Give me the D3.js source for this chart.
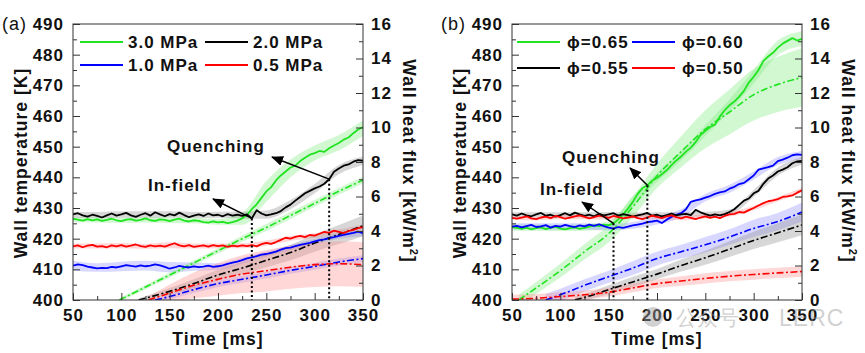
<!DOCTYPE html>
<html>
<head>
<meta charset="utf-8">
<script src="https://cdn.jsdelivr.net/npm/d3@7"></script>
<style>
  body { margin: 0; background: #fff; }
  text { font-family: "Liberation Sans", Arial, sans-serif; }
</style>
</head>
<body>
<div id="chart"></div>
<script>

// time grid of the wall temperature traces [ms]
var timeT = [50,55,60,65,70,75,80,85,90,95,100,105,110,115,120,125,130,135,140,145,150,155,160,165,170,175,180,185,190,195,
  200,205,210,215,220,225,230,235,240,245,250,255,260,265,270,275,280,285,290,295,300,305,310,315,320,325,330,335,340,345,350];
// time grid of the shaded temperature bands [ms]
var timeBand = [50,75,100,125,150,175,200,225,250,275,300,325,350];

/* ---------- (a) pressure ---------- */
var pressureLabels = ["3.0 MPa", "2.0 MPa", "1.0 MPa", "0.5 MPa"];

var tempA30 = [426.5,426.2,425.9,426.4,426.0,426.3,425.8,426.1,426.5,426.0,425.7,426.2,426.4,425.9,426.1,426.6,426.0,425.8,426.3,426.1,
  425.7,426.2,426.5,425.9,425.6,426.0,425.8,425.4,425.2,425.6,425.3,425.5,425.1,425.4,425.9,426.6,427.8,429.6,431.2,433.3,
  435.4,436.8,439.0,440.6,441.9,443.2,443.8,445.3,446.4,447.4,447.9,448.6,448.3,449.5,450.4,451.2,452.3,453.0,454.4,455.6,456.4];
var tempA20 = [427.9,428.3,427.6,427.2,427.8,427.4,426.9,427.6,428.2,427.5,427.9,428.4,427.6,427.1,427.8,428.3,427.5,428.6,427.9,427.3,
  428.0,427.6,428.5,427.7,427.0,427.5,427.9,427.4,428.2,427.6,427.8,427.3,428.0,427.5,427.8,427.4,427.9,426.6,429.3,428.2,
  427.6,427.9,428.3,429.0,430.2,431.1,432.4,433.6,434.8,435.6,436.4,437.0,437.9,439.4,441.8,442.9,443.8,444.2,445.1,445.6,445.4];
var tempA10 = [411.2,411.6,411.4,410.9,410.6,410.3,410.5,410.4,410.8,410.6,411.0,411.4,411.1,410.9,411.3,411.0,411.2,411.6,411.3,410.8,
  410.2,410.6,411.1,410.8,410.6,411.0,410.7,410.9,411.2,410.8,411.0,411.3,411.8,412.2,412.5,413.0,413.6,413.9,414.3,414.8,
  415.0,415.4,415.8,416.4,416.9,417.1,417.6,418.0,418.3,418.6,419.1,419.5,419.8,420.2,420.5,420.9,421.2,421.6,421.9,422.3,421.8];
var tempA05 = [417.5,417.8,417.2,417.7,418.0,417.4,417.6,417.2,417.8,417.5,417.9,417.4,417.7,418.1,417.6,417.3,417.8,417.5,417.7,417.4,
  418.0,418.5,417.8,417.5,417.9,417.3,417.6,417.8,417.4,417.9,417.6,417.8,417.3,417.7,417.5,417.8,417.6,417.9,417.5,418.2,
  418.6,418.3,418.9,419.6,420.3,420.0,420.6,420.9,420.5,421.2,421.0,421.6,422.2,421.9,422.6,422.2,421.8,422.5,422.9,423.4,423.8];

var bandA30Lo = [425.4,425.3,425.2,425.3,425.1,425.0,424.5,424.5,432.0,440.0,445.5,448.8,453.5];
var bandA30Hi = [426.9,427.0,426.8,427.0,426.9,426.8,426.4,428.5,438.8,445.8,450.4,453.8,458.5];
var bandA20Lo = [426.8,426.7,426.8,426.8,426.9,426.7,426.8,426.6,426.5,429.6,434.8,441.0,444.0];
var bandA20Hi = [428.8,428.7,428.9,428.9,428.9,428.7,428.8,428.8,429.2,432.6,437.8,444.0,446.8];
var bandA10Lo = [409.5,409.2,409.4,409.6,409.0,409.5,409.8,411.8,414.2,416.2,418.2,420.0,420.8];
var bandA10Hi = [412.8,412.0,412.5,412.8,412.4,412.2,412.0,413.8,415.8,417.9,419.9,421.8,422.8];
var bandA05Lo = [416.8,416.8,416.9,416.7,416.9,416.8,416.9,416.9,417.7,419.3,420.2,421.4,422.8];
var bandA05Hi = [418.4,418.4,418.6,418.3,418.8,418.4,418.4,418.5,419.4,420.9,421.8,423.0,424.6];

// wall heat flux [kW/m2], mean and spread
var fluxTimeA30 = [98,125,150,175,200,225,250,275,300,325,350];
var fluxA30     = [0,0.75,1.45,2.15,2.85,3.55,4.2,4.9,5.6,6.3,6.95];
var fluxSdA30   = [0.1,0.12,0.15,0.15,0.15,0.18,0.2,0.2,0.2,0.2,0.2];
var fluxTimeA20 = [118,150,175,200,225,250,275,300,325,350];
var fluxA20     = [0,0.5,0.95,1.45,1.85,2.3,2.75,3.3,3.8,4.3];
var fluxSdA20   = [0.1,0.2,0.25,0.3,0.35,0.4,0.45,0.5,0.55,0.6];
var fluxTimeA10 = [135,150,175,200,225,250,275,300,325,350];
var fluxA10     = [0,0.2,0.6,0.95,1.2,1.45,1.72,1.95,2.2,2.4];
var fluxSdA10   = [0.1,0.15,0.2,0.2,0.2,0.2,0.2,0.2,0.2,0.2];
var fluxTimeA05 = [128,150,175,200,225,250,275,300,325,350];
var fluxA05     = [0,0.4,0.85,1.2,1.5,1.7,1.9,2.05,2.1,2.05];
var fluxSdA05   = [0.2,0.5,0.75,0.95,1.1,1.2,1.25,1.3,1.3,1.3];

/* ---------- (b) equivalence ratio ---------- */
var phiLabels = ["\u03d5=0.65", "\u03d5=0.60", "\u03d5=0.55", "\u03d5=0.50"];

var tempB65 = [423.8,423.5,423.2,423.6,423.0,423.4,423.7,423.1,423.5,423.9,423.3,423.0,423.4,423.7,423.2,423.5,423.9,424.3,424.1,424.6,
  424.4,425.0,426.3,427.9,429.8,432.0,434.6,436.5,437.4,438.9,439.8,441.0,442.3,444.0,445.5,446.8,448.4,449.7,451.5,453.8,
  455.2,456.4,457.2,459.8,461.9,463.5,464.7,466.3,468.2,470.9,472.8,475.0,477.9,479.4,480.6,482.3,483.6,484.5,485.4,484.6,485.2];
var tempB60 = [423.9,424.2,423.7,424.1,424.5,423.8,424.0,424.4,423.6,424.2,423.9,424.5,424.1,423.8,424.3,424.0,424.6,424.2,424.7,424.1,
  423.6,423.3,423.8,423.5,423.9,424.3,424.6,424.9,425.4,425.6,425.9,425.1,426.2,427.1,427.8,428.3,429.6,432.0,432.5,432.8,
  433.4,433.9,434.6,435.1,435.4,436.3,436.9,437.8,438.2,439.4,440.6,442.5,442.9,443.3,443.8,445.3,445.8,446.4,447.2,447.5,447.3];
var tempB55 = [427.9,427.5,428.2,427.6,427.3,427.9,428.4,427.5,427.8,427.2,427.7,428.3,427.6,428.5,427.9,427.4,427.8,427.3,428.1,427.6,
  427.9,428.3,427.5,428.0,427.7,427.2,427.6,427.9,428.4,427.5,427.8,427.3,427.7,428.2,427.6,427.9,428.1,427.7,429.4,428.6,
  428.0,427.5,427.9,427.6,428.0,428.7,429.6,431.0,432.4,433.1,434.8,435.6,437.9,439.6,440.6,441.9,442.5,443.3,444.6,445.2,445.4];
var tempB50 = [426.8,426.5,426.9,427.3,426.6,426.4,426.9,427.2,426.7,427.4,427.0,426.5,426.9,427.3,427.6,427.1,426.6,427.0,427.5,427.2,
  426.8,427.4,427.0,426.6,426.9,427.3,426.7,426.4,426.9,427.5,427.1,426.7,427.3,427.6,427.0,426.6,427.2,426.8,426.4,426.9,
  427.3,426.8,427.2,426.7,427.4,427.9,428.1,428.7,428.5,429.3,430.0,430.8,431.6,432.2,432.5,432.9,433.6,433.8,434.1,435.0,435.8];

var bandB65Lo = [422.6,422.6,422.5,422.6,423.3,430.5,438.5,445.5,453.5,461.5,470.5,479.8,482.8];
var bandB65Hi = [424.6,424.6,424.5,424.7,425.6,433.9,441.5,448.5,457.0,465.5,475.0,484.6,487.6];
var bandB60Lo = [423.0,423.1,423.0,423.0,422.7,423.2,424.6,427.0,432.2,435.0,439.3,444.0,446.0];
var bandB60Hi = [425.0,425.0,425.0,425.0,424.8,425.4,427.2,429.6,434.6,437.6,441.9,446.6,448.6];
var bandB55Lo = [427.0,427.0,427.0,427.0,427.1,426.9,427.0,427.1,427.2,427.9,433.6,440.6,444.2];
var bandB55Hi = [428.6,428.6,428.6,428.6,428.7,428.5,428.6,428.7,428.8,429.5,435.9,443.2,446.6];
var bandB50Lo = [426.2,426.0,426.3,426.3,426.2,426.5,426.4,426.0,426.6,427.2,429.3,432.2,435.0];
var bandB50Hi = [427.5,427.1,427.7,427.8,427.5,428.0,427.9,427.3,428.0,428.6,430.7,433.6,436.6];

var fluxTimeB65 = [57,75,100,125,150,175,200,225,250,275,300,325,350];
var fluxB65     = [0,0.7,1.7,2.8,3.85,5.4,7.2,8.6,9.9,10.9,11.9,12.5,12.9];
var fluxSdB65   = [0.3,0.35,0.4,0.45,0.5,0.6,0.7,0.9,1.1,1.3,1.5,1.6,1.7];
var fluxTimeB60 = [85,100,125,150,175,200,225,250,275,300,325,350];
var fluxB60     = [0,0.3,0.85,1.35,1.85,2.4,2.8,3.2,3.65,4.15,4.55,5.1];
var fluxSdB60   = [0.35,0.35,0.35,0.35,0.4,0.4,0.4,0.45,0.45,0.5,0.5,0.55];
var fluxTimeB55 = [115,125,150,175,200,225,250,275,300,325,350];
var fluxB55     = [0,0.15,0.6,1.05,1.5,2.0,2.45,2.95,3.45,3.9,4.35];
var fluxSdB55   = [0.2,0.2,0.25,0.3,0.3,0.35,0.4,0.45,0.5,0.55,0.6];
var fluxTimeB50 = [50,75,100,125,150,175,200,225,250,275,300,325,350];
var fluxB50     = [0.05,0.1,0.2,0.3,0.45,0.7,0.95,1.1,1.25,1.38,1.48,1.57,1.65];
var fluxSdB50   = [0.25,0.25,0.25,0.25,0.25,0.25,0.25,0.28,0.3,0.3,0.3,0.3,0.3];

// axis ticks
var timeTicks = [50,100,150,200,250,300,350];
var tempTicks = [400,410,420,430,440,450,460,470,480,490];
var fluxTicks = [0,2,4,6,8,10,12,14,16];

var colors = ["#1fe41f", "#000000", "#0000ff", "#ff0000"];
var bandColors = ["#7dea7d", "#8c8c8c", "#8c8cff", "#ff8c8c"];

var svg = d3.select("#chart")
  .append("svg")
  .attr("width", 865)
  .attr("height", 353);

var plotTop = 24, plotBottom = 300, plotWidth = 290;

function zip(ts, vs) {
  return ts.map(function(t, i) { return { t: t, v: vs[i] }; });
}

function drawPanel(p) {
  var x = d3.scaleLinear().domain([50, 350]).range([p.left, p.left + plotWidth]);
  var yT = d3.scaleLinear().domain([400, 490]).range([plotBottom, plotTop]);
  var yQ = d3.scaleLinear().domain([0, 16]).range([plotBottom, plotTop]);

  var g = svg.append("g");

  g.append("clipPath").attr("id", "clip-" + p.id)
    .append("rect")
    .attr("x", p.left).attr("y", plotTop)
    .attr("width", plotWidth).attr("height", plotBottom - plotTop);

  var plot = g.append("g").attr("clip-path", "url(#clip-" + p.id + ")");

  var bandArea = d3.area()
    .x(function(d) { return x(d.t); })
    .y0(function(d) { return yT(d.lo); })
    .y1(function(d) { return yT(d.hi); })
    .curve(d3.curveMonotoneX);

  var fluxArea = d3.area()
    .x(function(d) { return x(d.t); })
    .y0(function(d) { return yQ(d.v - d.sd); })
    .y1(function(d) { return yQ(d.v + d.sd); })
    .curve(d3.curveMonotoneX);

  var tempLine = d3.line()
    .x(function(d) { return x(d.t); })
    .y(function(d) { return yT(d.v); });

  var fluxLine = d3.line()
    .x(function(d) { return x(d.t); })
    .y(function(d) { return yQ(d.v); })
    .curve(d3.curveMonotoneX);

  // shaded bands
  p.series.forEach(function(s, i) {
    plot.append("path")
      .datum(timeBand.map(function(t, j) { return { t: t, lo: s.bandLo[j], hi: s.bandHi[j] }; }))
      .attr("d", bandArea)
      .attr("fill", bandColors[s.c])
      .attr("fill-opacity", 0.35);
  });
  p.series.forEach(function(s, i) {
    plot.append("path")
      .datum(s.fluxT.map(function(t, j) { return { t: t, v: s.flux[j], sd: s.fluxSd[j] }; }))
      .attr("d", fluxArea)
      .attr("fill", bandColors[s.c])
      .attr("fill-opacity", 0.35);
  });

  // heat flux (dash-dot)
  p.series.forEach(function(s) {
    plot.append("path")
      .datum(zip(s.fluxT, s.flux))
      .attr("d", fluxLine)
      .attr("fill", "none")
      .attr("stroke", colors[s.c])
      .attr("stroke-width", 1.6)
      .attr("stroke-dasharray", "7,2.5,2,2.5");
  });

  // wall temperature (solid)
  p.series.forEach(function(s) {
    plot.append("path")
      .datum(zip(timeT, s.temp))
      .attr("d", tempLine)
      .attr("fill", "none")
      .attr("stroke", colors[s.c])
      .attr("stroke-width", 1.8)
      .attr("stroke-linejoin", "round");
  });

  // frame
  g.append("rect")
    .attr("x", p.left).attr("y", plotTop)
    .attr("width", plotWidth).attr("height", plotBottom - plotTop)
    .attr("fill", "none").attr("stroke", "#333").attr("stroke-width", 1);

  // axes, ticks pointing inward
  function styleAxis(sel) {
    sel.select(".domain").remove();
    sel.selectAll("line").attr("stroke", "#333");
    sel.selectAll("text")
      .attr("font-family", "'Liberation Sans', Arial, sans-serif")
      .attr("font-size", 17)
      .attr("font-weight", "bold")
      .attr("letter-spacing", 1)
      .attr("fill", "#111");
  }

  g.append("g").attr("transform", "translate(0," + plotBottom + ")")
    .call(d3.axisBottom(x).tickValues(d3.range(75, 350, 50)).tickSize(-4).tickFormat(""))
    .call(styleAxis);
  g.append("g").attr("transform", "translate(0," + plotBottom + ")")
    .call(d3.axisBottom(x).tickValues(timeTicks).tickSize(-7).tickPadding(9))
    .call(styleAxis);

  g.append("g").attr("transform", "translate(" + p.left + ",0)")
    .call(d3.axisLeft(yT).tickValues(d3.range(405, 490, 10)).tickSize(-4).tickFormat(""))
    .call(styleAxis);
  g.append("g").attr("transform", "translate(" + p.left + ",0)")
    .call(d3.axisLeft(yT).tickValues(tempTicks).tickSize(-7).tickPadding(9))
    .call(styleAxis);

  g.append("g").attr("transform", "translate(" + (p.left + plotWidth) + ",0)")
    .call(d3.axisRight(yQ).tickValues(d3.range(1, 16, 2)).tickSize(-4).tickFormat(""))
    .call(styleAxis);
  g.append("g").attr("transform", "translate(" + (p.left + plotWidth) + ",0)")
    .call(d3.axisRight(yQ).tickValues(fluxTicks).tickSize(-7).tickPadding(8))
    .call(styleAxis);

  // axis titles
  var titleFont = function(t) {
    t.attr("font-size", 17.5).attr("font-weight", "bold").attr("letter-spacing", 1).attr("fill", "#111");
  };
  g.append("text")
    .attr("transform", "translate(" + (p.left - 46) + ",163) rotate(-90)")
    .attr("text-anchor", "middle")
    .text("Wall temperature [K]")
    .call(titleFont);
  var rt = g.append("text")
    .attr("transform", "translate(" + (p.left + plotWidth + 40) + ",161) rotate(90)")
    .attr("text-anchor", "middle")
    .call(titleFont);
  rt.append("tspan").text("Wall heat flux [kW/m");
  rt.append("tspan").attr("dy", -7).attr("font-size", 11).text("2");
  rt.append("tspan").attr("dy", 7).text("]");
  g.append("text")
    .attr("x", p.left + plotWidth / 2)
    .attr("y", 345)
    .attr("text-anchor", "middle")
    .text("Time [ms]")
    .call(titleFont);

  // panel tag
  g.append("text")
    .attr("x", p.left - 71)
    .attr("y", 30)
    .attr("font-size", 18)
    .attr("letter-spacing", 1)
    .attr("fill", "#111")
    .text(p.tag);

  // legend
  p.legend.forEach(function(item, i) {
    var lx = p.legendX[i % 2], ly = p.legendY[Math.floor(i / 2)];
    g.append("line")
      .attr("x1", lx).attr("x2", lx + 43)
      .attr("y1", ly).attr("y2", ly)
      .attr("stroke", colors[item.c]).attr("stroke-width", 2);
    g.append("text")
      .attr("x", lx + p.legendGap)
      .attr("y", ly + 6)
      .attr("font-size", 17).attr("font-weight", "bold").attr("letter-spacing", 1)
      .attr("fill", "#111")
      .text(item.label);
  });

  // annotations: dotted markers and arrows
  p.marks.forEach(function(m) {
    var topY = yT(m.series.temp[timeT.indexOf(m.t)]);
    g.append("line")
      .attr("x1", x(m.t)).attr("x2", x(m.t))
      .attr("y1", topY).attr("y2", plotBottom)
      .attr("stroke", "#000").attr("stroke-width", 2)
      .attr("stroke-dasharray", "2,2.5");
    g.append("line")
      .attr("x1", x(m.t)).attr("y1", topY)
      .attr("x2", m.tip[0]).attr("y2", m.tip[1])
      .attr("stroke", "#000").attr("stroke-width", 1.5)
      .attr("marker-end", "url(#arrow)");
    g.append("text")
      .attr("x", m.textAt[0]).attr("y", m.textAt[1])
      .attr("font-size", 17).attr("font-weight", "bold").attr("letter-spacing", 1)
      .attr("fill", "#111")
      .text(m.label);
  });
}

svg.append("defs").append("marker")
  .attr("id", "arrow")
  .attr("viewBox", "0 0 12 10")
  .attr("refX", 11).attr("refY", 5)
  .attr("markerWidth", 12).attr("markerHeight", 10)
  .attr("markerUnits", "userSpaceOnUse")
  .attr("orient", "auto")
  .append("path")
  .attr("d", "M0,0 L12,5 L0,10 Z")
  .attr("fill", "#000");

var seriesA = [
  { c: 0, temp: tempA30, bandLo: bandA30Lo, bandHi: bandA30Hi, fluxT: fluxTimeA30, flux: fluxA30, fluxSd: fluxSdA30 },
  { c: 1, temp: tempA20, bandLo: bandA20Lo, bandHi: bandA20Hi, fluxT: fluxTimeA20, flux: fluxA20, fluxSd: fluxSdA20 },
  { c: 2, temp: tempA10, bandLo: bandA10Lo, bandHi: bandA10Hi, fluxT: fluxTimeA10, flux: fluxA10, fluxSd: fluxSdA10 },
  { c: 3, temp: tempA05, bandLo: bandA05Lo, bandHi: bandA05Hi, fluxT: fluxTimeA05, flux: fluxA05, fluxSd: fluxSdA05 }
];
var seriesB = [
  { c: 0, temp: tempB65, bandLo: bandB65Lo, bandHi: bandB65Hi, fluxT: fluxTimeB65, flux: fluxB65, fluxSd: fluxSdB65 },
  { c: 2, temp: tempB60, bandLo: bandB60Lo, bandHi: bandB60Hi, fluxT: fluxTimeB60, flux: fluxB60, fluxSd: fluxSdB60 },
  { c: 1, temp: tempB55, bandLo: bandB55Lo, bandHi: bandB55Hi, fluxT: fluxTimeB55, flux: fluxB55, fluxSd: fluxSdB55 },
  { c: 3, temp: tempB50, bandLo: bandB50Lo, bandHi: bandB50Hi, fluxT: fluxTimeB50, flux: fluxB50, fluxSd: fluxSdB50 }
];

drawPanel({
  id: "a", tag: "(a)", left: 73,
  series: seriesA,
  legend: [
    { c: 0, label: pressureLabels[0] }, { c: 1, label: pressureLabels[1] },
    { c: 2, label: pressureLabels[2] }, { c: 3, label: pressureLabels[3] }
  ],
  legendX: [80, 205], legendY: [42, 65], legendGap: 48,
  marks: [
    { t: 235, series: seriesA[1], tip: [213, 199], textAt: [148, 191], label: "In-field" },
    { t: 315, series: seriesA[1], tip: [272, 157], textAt: [167, 152], label: "Quenching" }
  ]
});

drawPanel({
  id: "b", tag: "(b)", left: 512,
  series: seriesB,
  legend: [
    { c: 0, label: phiLabels[0] }, { c: 2, label: phiLabels[1] },
    { c: 1, label: phiLabels[2] }, { c: 3, label: phiLabels[3] }
  ],
  legendX: [517, 632], legendY: [42, 68], legendGap: 50,
  marks: [
    { t: 155, series: seriesB[0], tip: [582, 202], textAt: [540, 195], label: "In-field" },
    { t: 190, series: seriesB[0], tip: [630, 168], textAt: [562, 163], label: "Quenching" }
  ]
});

// faint watermark of the source
var wm = svg.append("g").attr("opacity", 0.45).attr("fill", "#9a9a9a");
wm.append("circle").attr("cx", 653).attr("cy", 317).attr("r", 10);
wm.append("text").attr("x", 676).attr("y", 325)
  .attr("font-family", "'Noto Sans CJK SC'").attr("font-size", 21).text("公众号");
wm.append("text").attr("x", 779).attr("y", 326)
  .attr("font-size", 23).attr("letter-spacing", 1).text("LERC");

</script>
</body>
</html>
